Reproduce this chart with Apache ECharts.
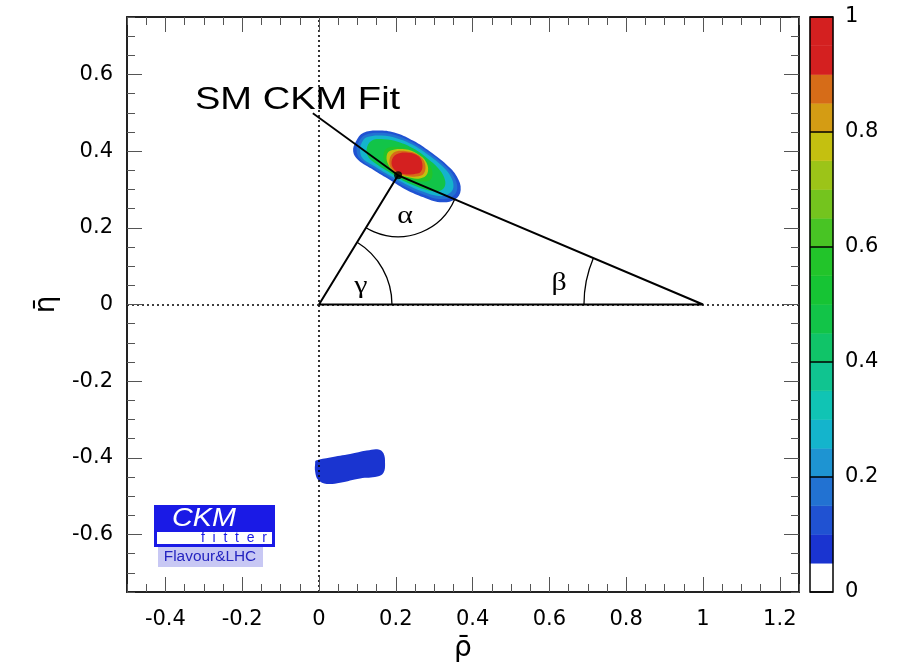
<!DOCTYPE html>
<html><head><meta charset="utf-8">
<script src="https://cdn.jsdelivr.net/npm/echarts@6/dist/echarts.min.js"></script>
<style>html,body{margin:0;padding:0;background:#fff}#c{width:899px;height:668px}</style>
</head><body><div id="c"></div>
<script>
// ---------- data ----------
const xMajorTicks = [-0.4, -0.2, 0, 0.2, 0.4, 0.6, 0.8, 1, 1.2];
const yMajorTicks = [-0.6, -0.4, -0.2, 0, 0.2, 0.4, 0.6];
const colorbarTicks = [0, 0.2, 0.4, 0.6, 0.8, 1];
const paletteLevels = [0,0.05,0.1,0.15,0.2,0.25,0.3,0.35,0.4,0.45,0.5,0.55,0.6,0.65,0.7,0.75,0.8,0.85,0.9,0.95,1];
const paletteColors = ['#ffffff','#1a34d0','#2052d2','#2272d2','#1e94d2','#14b4cc','#10c4b4','#10c490','#10c468','#12c448',
                       '#16c434','#22c42a','#48c424','#74c41e','#9cc418','#c4c010','#d49c14','#d66c18','#d42020','#d42020'];
// triangle vertices: (0,0) gamma, (1,0) beta, apex alpha
const triangleVertices = [[0, 0], [1, 0], [0.206, 0.337]];
const smFitPointer = [[-0.016, 0.499], [0.206, 0.337]];
const smFitLabel = ['SM CKM Fit'];
const smFitLabelPos = [[-0.323, 0.534]];
const angleNames = ['\u03b3', '\u03b2', '\u03b1'];
const angleVertex = [0, 1, 2];
const angleRadius = [0.19, 0.31, 0.16];
const angleLabelPos = [[0.109, 0.048], [0.625, 0.056], [0.224, 0.231]];

// likelihood contours (rho, eta)
const contourOuter = [[0.116,0.448],[0.159,0.454],[0.202,0.447],[0.246,0.427],[0.289,0.399],[0.333,0.364],[0.359,0.334],[0.369,0.299],[0.354,0.274],[0.315,0.267],[0.272,0.280],[0.228,0.299],[0.185,0.325],[0.142,0.351],[0.102,0.377],[0.089,0.399],[0.096,0.425]];
const contourC1b = [[0.120,0.442],[0.161,0.448],[0.202,0.441],[0.245,0.422],[0.287,0.395],[0.328,0.362],[0.351,0.334],[0.360,0.302],[0.346,0.281],[0.313,0.275],[0.272,0.287],[0.229,0.305],[0.186,0.330],[0.144,0.355],[0.108,0.379],[0.098,0.400],[0.103,0.423]];
const contourC2 = [[0.124,0.436],[0.163,0.441],[0.202,0.434],[0.244,0.417],[0.285,0.390],[0.322,0.360],[0.343,0.334],[0.350,0.306],[0.337,0.288],[0.311,0.283],[0.272,0.294],[0.230,0.312],[0.187,0.335],[0.146,0.360],[0.114,0.381],[0.107,0.401],[0.111,0.421]];
const contourC3 = [[0.137,0.427],[0.168,0.431],[0.207,0.424],[0.246,0.407],[0.280,0.383],[0.311,0.355],[0.326,0.331],[0.328,0.309],[0.315,0.297],[0.289,0.297],[0.259,0.306],[0.224,0.321],[0.185,0.344],[0.150,0.366],[0.129,0.384],[0.124,0.405]];
const contourC4 = [[0.176,0.407],[0.211,0.410],[0.246,0.396],[0.276,0.377],[0.293,0.355],[0.293,0.329],[0.276,0.321],[0.241,0.325],[0.207,0.338],[0.178,0.358],[0.168,0.381]];
const contourC5 = [[0.185,0.401],[0.224,0.405],[0.256,0.393],[0.280,0.370],[0.282,0.341],[0.263,0.329],[0.228,0.333],[0.198,0.344],[0.181,0.364],[0.176,0.386]];
const contourC6 = [[0.194,0.396],[0.228,0.400],[0.259,0.390],[0.276,0.368],[0.273,0.342],[0.253,0.334],[0.220,0.337],[0.194,0.349],[0.183,0.370]];
const contourC7 = [[0.202,0.392],[0.233,0.396],[0.259,0.387],[0.269,0.368],[0.265,0.346],[0.246,0.340],[0.215,0.341],[0.196,0.352],[0.189,0.373]];
const contourLower = [[-0.008,-0.407],[0.029,-0.399],[0.081,-0.390],[0.124,-0.381],[0.155,-0.378],[0.168,-0.388],[0.172,-0.414],[0.168,-0.439],[0.152,-0.449],[0.107,-0.454],[0.055,-0.465],[0.020,-0.468],[-0.002,-0.458],[-0.010,-0.436],[-0.010,-0.414]];
const blobContours = [contourOuter, contourC1b, contourC2, contourC3, contourC4, contourC5, contourC6, contourC7, contourLower];
const blobLevels = [0.1, 0.15, 0.25, 0.45, 0.55, 0.75, 0.85, 0.9, 0.05];

// ---------- helpers ----------
function colorForLevel(lv) {
  for (let i = paletteColors.length - 1; i >= 0; i--) {
    if (lv >= paletteLevels[i] - 1e-6) return paletteColors[i];
  }
  return paletteColors[0];
}
const fmt = v => String(Math.round(v * 100) / 100);
const FONT = 'DejaVu Sans';
const tickCol = '#555';
const frameLine = { show: true, onZero: false, lineStyle: { color: '#222', width: 2 } };
const noLine = { show: false, onZero: false };
const minorTick = { show: true, inside: true, length: 8, lineStyle: { color: tickCol, width: 1 } };
const majorTick = vals => ({ show: true, inside: true, length: 15, customValues: vals, lineStyle: { color: tickCol, width: 1 } });
const XR = { min: -0.5, max: 1.25 }, YR = { min: -0.75, max: 0.75 };

function xAx(pos, isFrame, labels) {
  return Object.assign({
    type: 'value', gridIndex: 0, position: pos, min: XR.min, max: XR.max, interval: 0.05, z: 10,
    splitLine: { show: false },
    axisLine: isFrame ? frameLine : noLine,
    axisTick: isFrame ? minorTick : majorTick(xMajorTicks),
    axisLabel: labels ? { customValues: xMajorTicks, formatter: fmt, fontSize: 21, fontFamily: FONT, color: '#000', margin: 17 } : { show: false }
  }, labels ? { name: '\u03c1\u0304', nameLocation: 'middle', nameGap: 38,
    nameTextStyle: { fontSize: 28, fontFamily: FONT, color: '#000' } } : {});
}
function yAx(pos, isFrame, labels) {
  return Object.assign({
    type: 'value', gridIndex: 0, position: pos, min: YR.min, max: YR.max, interval: 0.05, z: 10,
    splitLine: { show: false },
    axisLine: isFrame ? frameLine : noLine,
    axisTick: isFrame ? minorTick : majorTick(yMajorTicks),
    axisLabel: labels ? { customValues: yMajorTicks, formatter: fmt, fontSize: 21, fontFamily: FONT, color: '#000', margin: 14 } : { show: false }
  }, labels ? { name: '\u03b7\u0304', nameLocation: 'middle', nameGap: 47,
    nameTextStyle: { fontSize: 28, fontFamily: FONT, color: '#000' } } : {});
}

const chart = echarts.init(document.getElementById('c'), null, { renderer: 'canvas' });
const option = {
  animation: false,
  backgroundColor: '#fff',
  grid: [
    { left: 127, right: 100, top: 17, bottom: 76 },
    { left: 810, width: 23, top: 17, bottom: 76 }
  ],
  xAxis: [
    xAx('bottom', true, true), xAx('bottom', false, false),
    xAx('top', true, false), xAx('top', false, false),
    { type: 'value', gridIndex: 1, min: 0, max: 1, show: false }
  ],
  yAxis: [
    yAx('left', true, true), yAx('left', false, false),
    yAx('right', true, false), yAx('right', false, false),
    { type: 'value', gridIndex: 1, position: 'right', min: 0, max: 1, interval: 0.2, z: 10,
      splitLine: { show: false }, axisLine: noLine,
      axisTick: { show: true, inside: true, length: 23, customValues: colorbarTicks, lineStyle: { color: '#000', width: 1.5 } },
      axisLabel: { customValues: colorbarTicks, formatter: fmt, fontSize: 21, fontFamily: FONT, color: '#000', margin: 12 } }
  ],
  series: [
    { // likelihood contours
      type: 'custom', xAxisIndex: 0, yAxisIndex: 0, z: 2, silent: true,
      data: blobContours.map((_, i) => [i]),
      renderItem: (params, api) => {
        const i = params.dataIndex;
        const pts = blobContours[i].map(p => api.coord(p));
        return { type: 'polygon', shape: { points: pts, smooth: 0.4 }, style: { fill: colorForLevel(blobLevels[i]), stroke: null } };
      }
    },
    { // triangle
      type: 'line', xAxisIndex: 0, yAxisIndex: 0, z: 5, silent: true, symbol: 'none',
      data: triangleVertices.concat([triangleVertices[0]]),
      lineStyle: { color: '#000', width: 2 },
      markLine: { silent: true, symbol: 'none', label: { show: false },
        lineStyle: { color: '#000', type: [2, 3], width: 1.6 },
        data: [{ xAxis: 0 }, { yAxis: 0 }] }
    },
    { // SM CKM fit pointer
      type: 'line', xAxisIndex: 0, yAxisIndex: 0, z: 5, silent: true, symbol: 'none',
      data: smFitPointer, lineStyle: { color: '#000', width: 1.8 }
    },
    { // apex point
      type: 'scatter', xAxisIndex: 0, yAxisIndex: 0, z: 6, silent: true,
      data: [triangleVertices[2]], symbolSize: 8, itemStyle: { color: '#000' }
    },
    { // angle arcs and labels
      type: 'custom', xAxisIndex: 0, yAxisIndex: 0, z: 5, silent: true,
      data: angleNames.map((_, i) => [i]),
      renderItem: (params, api) => {
        const k = params.dataIndex;
        const vi = angleVertex[k];
        const c = api.coord(triangleVertices[vi]);
        const others = triangleVertices.filter((_, j) => j !== vi);
        const a = others.map(o => { const p = api.coord(o); return Math.atan2(p[1] - c[1], p[0] - c[0]); });
        let d = a[1] - a[0];
        while (d > Math.PI) d -= 2 * Math.PI;
        while (d < -Math.PI) d += 2 * Math.PI;
        const start = d > 0 ? a[0] : a[1];
        const r = api.size([angleRadius[k], 0])[0];
        const lp = api.coord(angleLabelPos[k]);
        return { type: 'group', children: [
          { type: 'arc', shape: { cx: c[0], cy: c[1], r: r, startAngle: start, endAngle: start + Math.abs(d), clockwise: true },
            style: { stroke: '#000', lineWidth: 1.3, fill: null } },
          { type: 'text', x: lp[0], y: lp[1], scaleX: 1.15,
            style: { text: angleNames[k], fontSize: 26, fontFamily: 'Liberation Serif', fill: '#000', align: 'center', verticalAlign: 'middle' } }
        ] };
      }
    },
    { // SM CKM Fit label
      type: 'custom', xAxisIndex: 0, yAxisIndex: 0, z: 6, silent: true,
      data: smFitLabel.map((_, i) => [i]),
      renderItem: (params, api) => {
        const p = api.coord(smFitLabelPos[params.dataIndex]);
        return { type: 'text', x: p[0], y: p[1], scaleX: 1.19,
          style: { text: smFitLabel[params.dataIndex], fontSize: 32, fontFamily: 'Liberation Sans', fill: '#000', align: 'left', verticalAlign: 'middle' } };
      }
    },
    { // colour bar bands
      type: 'custom', xAxisIndex: 4, yAxisIndex: 4, z: 2, silent: true,
      data: paletteColors.map((_, i) => [i]),
      renderItem: (params, api) => {
        const i = params.dataIndex;
        const p0 = api.coord([0, paletteLevels[i]]);
        const p1 = api.coord([1, paletteLevels[i + 1]]);
        return { type: 'rect', shape: { x: p0[0], y: p1[1], width: p1[0] - p0[0], height: p0[1] - p1[1] },
          style: { fill: paletteColors[i], stroke: paletteColors[i], lineWidth: 0.5 } };
      }
    },
    { // colour bar frame
      type: 'custom', xAxisIndex: 4, yAxisIndex: 4, z: 3, silent: true,
      data: [[0]],
      renderItem: (params, api) => {
        const p0 = api.coord([0, 0]);
        const p1 = api.coord([1, 1]);
        return { type: 'rect', shape: { x: p0[0], y: p1[1], width: p1[0] - p0[0], height: p0[1] - p1[1] },
          style: { fill: null, stroke: '#000', lineWidth: 1.5 } };
      }
    }
  ],
  graphic: [
    { type: 'rect', x: 154, y: 505, shape: { width: 121, height: 42 }, style: { fill: '#1a1ae6' }, z: 20 },
    { type: 'rect', x: 157, y: 532, shape: { width: 115, height: 12 }, style: { fill: '#ffffff' }, z: 21 },
    { type: 'text', x: 204, y: 519, scaleX: 1.15, z: 22,
      style: { text: 'CKM', fontSize: 25, fontStyle: 'italic', fontFamily: 'Liberation Sans', fill: '#ffffff', align: 'center', verticalAlign: 'middle' } },
    { type: 'text', x: 267, y: 538.5, z: 22,
      style: { text: 'f  i  t  t  e  r', fontSize: 14, fontFamily: 'Liberation Sans', fill: '#1a1ae6', align: 'right', verticalAlign: 'middle' } },
    { type: 'rect', x: 158, y: 547, shape: { width: 105, height: 20 }, style: { fill: '#c8c8f4' }, z: 20 },
    { type: 'text', x: 210, y: 557, scaleX: 1.1, z: 22,
      style: { text: 'Flavour&LHC', fontSize: 14, fontFamily: 'Liberation Sans', fill: '#2424c0', align: 'center', verticalAlign: 'middle' } }
  ]
};
chart.setOption(option);
</script>
</body></html>
